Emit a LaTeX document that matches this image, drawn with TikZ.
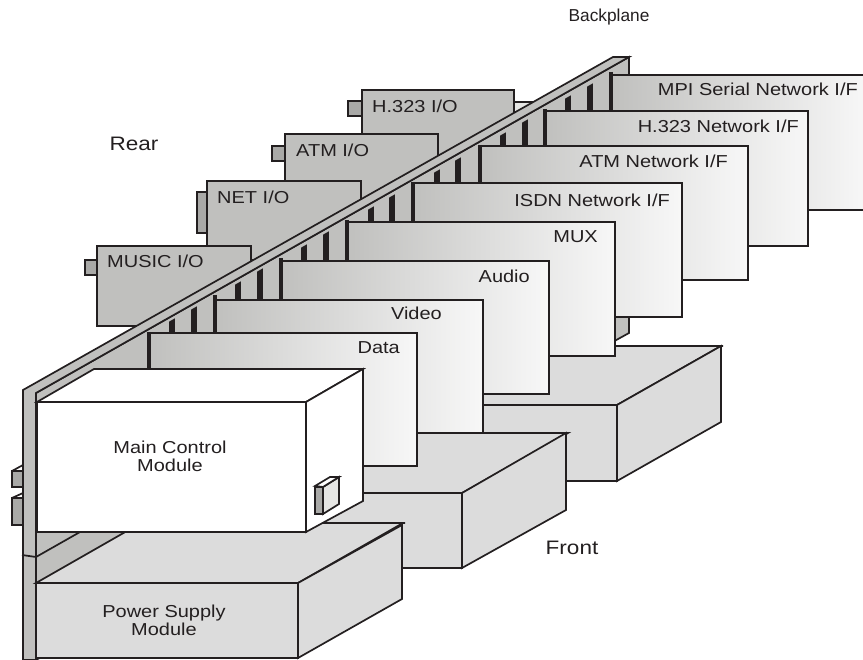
\documentclass[tikz,border=0pt]{standalone}
\usepackage{fontspec}
\setmainfont{Liberation Sans}
\definecolor{ink}{HTML}{231F20}
\definecolor{plate}{HTML}{C0C0BE}
\definecolor{module}{HTML}{DCDCDC}
\definecolor{conn}{HTML}{A9A9A7}
\definecolor{tip}{HTML}{E6E6E4}
\newcommand{\wide}[1]{\scalebox{1.155}[1]{#1}}
\tikzset{
  edge/.style={draw=ink,line width=1.7pt,line join=miter},
  thick edge/.style={draw=ink,line width=2.2pt,line join=miter},
  slot edge/.style={draw=ink,line width=3.6pt},
  platebox/.style={edge,fill=plate},
  modbox/.style={edge,fill=module},
  connbox/.style={edge,fill=conn},
  tipbox/.style={edge,fill=tip},
  bar/.style={fill=ink,draw=none},
  cardbox/.style={thick edge,left color=plate,right color=white!97!black},
  lbl/.style={font=\fontsize{17.3}{18}\selectfont,text=ink,inner sep=0pt},
  biglbl/.style={font=\fontsize{19.5}{20}\selectfont,text=ink,inner sep=0pt},
  lblr/.style={lbl,anchor=east},
  lbll/.style={lbl,anchor=west}
}
\newcommand{\ioback}[3]{\path[tipbox,draw=none] (#1,#2) -- (#3,#2) -- ++(0,12) -- (#1,#2+12) -- cycle;
  \draw[edge] (#1,#2) -- (#3,#2);}
\newcommand{\barpair}[3]{\fill[bar] (#1-2.8,#2+1.6) -- (#1-2.8,#3) -- (#1+2.8,#3) -- (#1+2.8,#2-1.6) -- cycle;}
\begin{document}
\begin{tikzpicture}[x=1pt,y=-1pt]
\useasboundingbox (0,0) rectangle (863,660);
% rear I/O cards and the slots they plug into
\ioback{251}{260}{262}
\ioback{361}{193}{374}
\ioback{438}{147}{454}
\ioback{514}{102}{535}
\path[connbox] (348,101) rectangle (362,116);
\path[platebox] (362,90) rectangle (514,180);
\path[connbox] (272,146) rectangle (285,161);
\path[platebox] (285,134) rectangle (438,220);
\path[connbox] (197,192) rectangle (207,233);
\path[platebox] (207,181) rectangle (361,260);
\path[connbox] (85,260) rectangle (97,275);
\path[platebox] (97,246) rectangle (251,326);
\path[connbox] (12,471) rectangle (23,487);
\draw[edge] (12,471) -- (23,465);
\path[connbox] (12,498) rectangle (23,525);
\draw[edge] (12,498) -- (23,493);
% backplane
\path[platebox] (36,393) -- (629,57) -- (629,333) -- (36,660) -- cycle;
\draw[edge] (36,557) -- (80,532);
% slot bars
\barpair{172}{320}{334}
\barpair{194}{308}{334}
\barpair{238}{283}{301}
\barpair{260}{270}{301}
\barpair{304}{246}{262}
\barpair{326}{233}{262}
\barpair{371}{208}{223}
\barpair{392}{196}{223}
\barpair{437}{171}{184}
\barpair{458}{159}{184}
\barpair{503}{134}{147}
\barpair{525}{121}{147}
\barpair{568}{97}{112}
\barpair{590}{85}{112}
% strip along the backplane edge
\path[platebox] (23,390) -- (613,57) -- (629,57) -- (36,393) -- (36,660) -- (23,660) -- cycle;
\draw[edge] (22,555) -- (36,557);
% rear module
\path[modbox] (480,405) -- (480,346) -- (723,346) -- (721,346) -- (617,405) -- cycle;
\path[modbox] (480,405) rectangle (617,481);
\path[modbox] (617,405) -- (721,346) -- (721,422) -- (617,481) -- cycle;
% cards, each with a heavy left edge up to the slot
\path[cardbox] (612,75) rectangle (866,210);
\draw[slot edge] (611,72) -- (611,112);
\path[cardbox] (545,111) rectangle (808,246);
\draw[slot edge] (545,109) -- (545,147);
\path[cardbox] (480,146) rectangle (748,280);
\draw[slot edge] (480,145) -- (480,184);
\path[cardbox] (413,183) rectangle (682,317);
\draw[slot edge] (413,182) -- (413,223);
\path[cardbox] (347,222) rectangle (615,356);
\draw[slot edge] (347,220) -- (347,262);
\path[cardbox] (281,261) rectangle (549,394);
\draw[slot edge] (281,258) -- (281,301);
\path[cardbox] (215,300) rectangle (483,433);
\draw[slot edge] (215,295) -- (215,334);
% middle module
\path[modbox] (360,493) -- (360,433) -- (568,433) -- (462,493) -- cycle;
\path[modbox] (300,493) rectangle (462,568);
\path[modbox] (462,493) -- (566,433) -- (566,510) -- (462,568) -- cycle;
\path[cardbox] (149,333) rectangle (417,466);
\draw[slot edge] (149,332) -- (149,371);
% power supply
\path[modbox] (36,583) -- (141,523) -- (405,523) -- (403,523) -- (298,583) -- cycle;
\path[modbox] (36,583) rectangle (298,658);
\path[modbox] (298,583) -- (402,525) -- (402,599) -- (298,658) -- cycle;
% main control module
\path[edge,fill=white] (37,402) -- (94,369) -- (363,369) -- (306,402) -- cycle;
\path[edge,fill=white] (37,402) rectangle (306,532);
\path[edge,fill=white] (306,402) -- (363,369) -- (363,501) -- (306,532) -- cycle;
\path[edge,fill=tip] (323,487) -- (339,477) -- (339,504) -- (323,514) -- cycle;
\path[edge,fill=white] (315,486) -- (330,477) -- (339,477) -- (323,487) -- cycle;
\path[connbox] (315,487) rectangle (323,514);
% labels
\node[lbl] (backplane) at (609,17) {Backplane};
\node[biglbl] (rear) at (134,144) {\wide{Rear}};
\node[biglbl] (front) at (572,548) {\wide{Front}};
\node[lbl,align=center] (main) at (170,456) {\wide{Main Control}\\\wide{Module}};
\node[lbl,align=center] (psu) at (164,620) {\wide{Power Supply}\\\wide{Module}};
\node[lbll] (ioh) at (372,106) {\wide{H.323 I/O}};
\node[lbll] (ioa) at (296,150) {\wide{ATM I/O}};
\node[lbll] (ion) at (217,197) {\wide{NET I/O}};
\node[lbll] (iom) at (107,261) {\wide{MUSIC I/O}};
\node[lblr] (data) at (400,348) {\wide{Data}};
\node[lblr] (video) at (442,313) {\wide{Video}};
\node[lblr] (audio) at (530,276) {\wide{Audio}};
\node[lblr] (mux) at (598,237) {\wide{MUX}};
\node[lblr] (isdn) at (670,200) {\wide{ISDN Network I/F}};
\node[lblr] (atm) at (728,161) {\wide{ATM Network I/F}};
\node[lblr] (h323) at (799,126) {\wide{H.323 Network I/F}};
\node[lblr] (mpi) at (858,89) {\wide{MPI Serial Network I/F}};
\end{tikzpicture}
\end{document}
